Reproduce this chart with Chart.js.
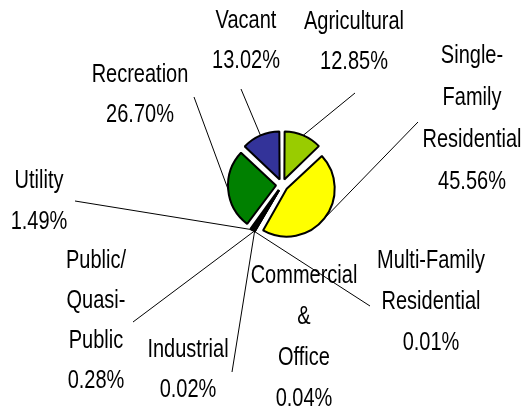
<!DOCTYPE html>
<html>
<head>
<meta charset="utf-8">
<script src="https://cdn.jsdelivr.net/npm/chart.js@4/dist/chart.umd.min.js"></script>
<style>
  html, body { margin: 0; padding: 0; background: #fff; }
  #wrap { width: 528px; height: 407px; }
</style>
</head>
<body>
<div id="wrap"><canvas id="pie"></canvas></div>
<script>
// Land use categories, in drawing order (clockwise from 12 o'clock)
const categories = ['Agricultural', 'Single-Family Residential', 'Multi-Family Residential',
    'Commercial & Office', 'Industrial', 'Public/Quasi-Public', 'Utility', 'Recreation', 'Vacant'];
const percents = [12.85, 45.56, 0.01, 0.04, 0.02, 0.28, 1.49, 26.70, 13.02];
// How each label is broken into lines (value line added below)
const labelLines = [
    ['Agricultural'],
    ['Single-', 'Family', 'Residential'],
    ['Multi-Family', 'Residential'],
    ['Commercial', '&', 'Office'],
    ['Industrial'],
    ['Public/', 'Quasi-', 'Public'],
    ['Utility'],
    ['Recreation'],
    ['Vacant']
];
const sliceColors = ['#99cc00', '#ffff00', '#ff99cc', '#cc3366', '#993366', '#cc0066', '#000000', '#008000', '#333399'];

// Label placement: text centre x, first baseline, line pitch, leader line end (null = none)
const labelPlace = [
    { x: 354, y: 29, pitch: 40, lead: [355, 93] },
    { x: 472, y: 63, pitch: 42, lead: [418, 122] },
    { x: 431, y: 268, pitch: 41, lead: [370, 306] },
    { x: 304, y: 283, pitch: 41, lead: null },
    { x: 188, y: 357, pitch: 40, lead: [232, 372] },
    { x: 96, y: 268, pitch: 40, lead: [133, 322] },
    { x: 39, y: 188, pitch: 41, lead: [75, 201] },
    { x: 140, y: 82, pitch: 40, lead: [194, 97] },
    { x: 246, y: 28, pitch: 40, lead: [241, 89] }
];

// Chart.js grows narrow exploded slices; undo that so every slice has the same radius
function growOf(arc) {
    const shift = (arc.options.offset || 0) / 4;
    const circ = arc.endAngle - arc.startAngle;
    return shift * (1 - Math.sin(Math.min(Math.PI, circ)));
}

const evenRadius = {
    id: 'evenRadius',
    beforeDatasetsDraw(chart) {
        const meta = chart.getDatasetMeta(0);
        const base = meta.controller.outerRadius;
        meta.data.forEach(arc => { arc.outerRadius = base - growOf(arc); });
    }
};

const pieLabels = {
    id: 'pieLabels',
    afterDatasetsDraw(chart) {
        const ctx = chart.ctx;
        const meta = chart.getDatasetMeta(0);
        const base = meta.controller.outerRadius;
        ctx.save();
        // leader lines, from the outer edge of each exploded slice
        ctx.strokeStyle = '#000';
        ctx.lineWidth = 1;
        meta.data.forEach((arc, i) => {
            const p = labelPlace[i];
            if (!p.lead) return;
            const mid = (arc.startAngle + arc.endAngle) / 2;
            const r = base + (arc.options.offset || 0) / 4;
            const sx = arc.x + Math.cos(mid) * r;
            const sy = arc.y + Math.sin(mid) * r;
            ctx.beginPath();
            ctx.moveTo(sx, sy);
            ctx.lineTo(p.lead[0], p.lead[1]);
            ctx.stroke();
        });
        // texts
        ctx.fillStyle = '#000';
        ctx.font = '25px "Liberation Sans", Arial, sans-serif';
        ctx.textAlign = 'center';
        ctx.textBaseline = 'alphabetic';
        categories.forEach((c, i) => {
            const p = labelPlace[i];
            const lines = labelLines[i].concat([percents[i].toFixed(2) + '%']);
            lines.forEach((t, k) => {
                ctx.save();
                ctx.translate(p.x, p.y + k * p.pitch);
                ctx.scale(0.8, 1);
                ctx.fillText(t, 0, 0);
                ctx.restore();
            });
        });
        ctx.restore();
    }
};

new Chart(document.getElementById('pie'), {
    type: 'pie',
    data: {
        labels: categories,
        datasets: [{
            data: percents,
            backgroundColor: sliceColors,
            borderColor: '#000',
            borderWidth: 2,
            offset: 24
        }]
    },
    options: {
        responsive: true,
        maintainAspectRatio: false,
        animation: false,
        radius: 48,
        layout: { padding: { left: 136, right: 100, top: 100, bottom: 137 } },
        plugins: {
            legend: { display: false },
            tooltip: { enabled: false }
        }
    },
    plugins: [evenRadius, pieLabels]
});
</script>
</body>
</html>
